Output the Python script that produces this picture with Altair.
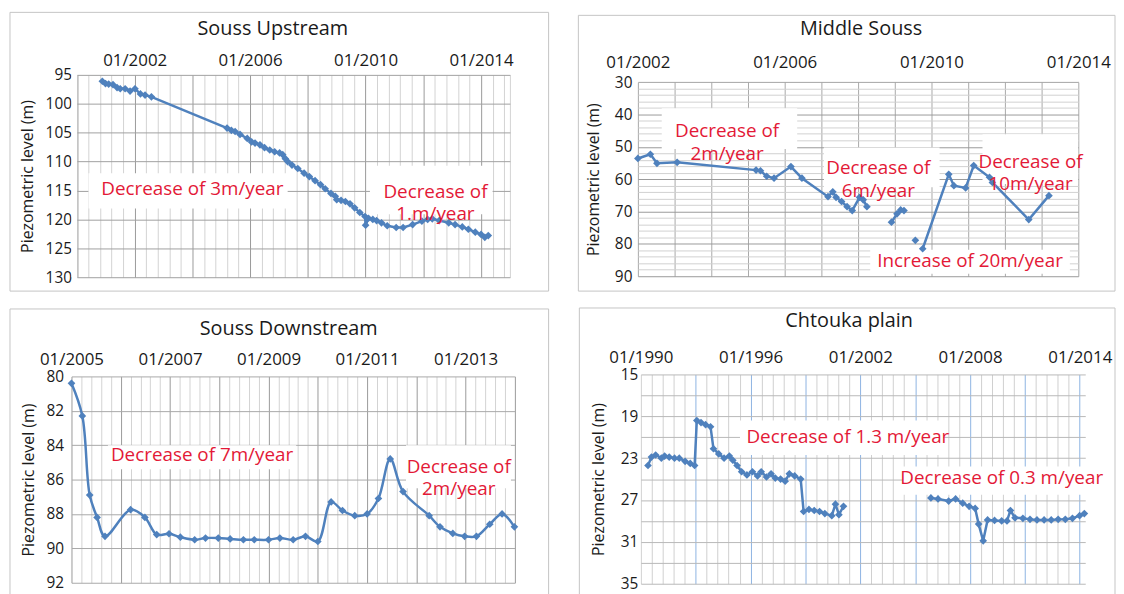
import json
import altair as alt
import pandas as pd

FONT = "Open Sans"
BLUE = "#4f81bd"
RED = "#e31937"
TXT = "#1a1a1a"

# ---------------- Souss Upstream ----------------
up_year = [2000.88, 2000.99, 2001.10, 2001.25, 2001.39, 2001.50, 2001.67, 2001.84, 2002.01, 2002.20,
           2002.36, 2002.58, 2005.20, 2005.35, 2005.48, 2005.65, 2005.90, 2006.05, 2006.17, 2006.34,
           2006.50, 2006.68, 2006.85, 2007.02, 2007.13, 2007.22, 2007.30, 2007.45, 2007.65, 2007.87,
           2008.05, 2008.25, 2008.44, 2008.60, 2008.80, 2008.95, 2009.00, 2009.15, 2009.30, 2009.46,
           2009.62, 2009.80, 2009.98, 2010.00, 2010.10, 2010.25, 2010.38, 2010.55, 2010.75, 2011.06,
           2011.30, 2011.63, 2011.95, 2012.15, 2012.31, 2012.55, 2012.88, 2013.10, 2013.35, 2013.56,
           2013.80, 2014.00, 2014.13, 2014.25]
up_level = [96.1, 96.5, 96.6, 96.7, 97.2, 97.4, 97.4, 97.8, 97.4, 98.3,
            98.5, 98.8, 104.2, 104.6, 104.8, 105.3, 106.0, 106.6, 106.8, 107.1,
            107.6, 108.0, 108.3, 108.5, 108.8, 109.5, 110.0, 110.6, 111.2, 112.0,
            112.6, 113.3, 114.0, 114.7, 115.5, 116.0, 116.6, 116.7, 116.9, 117.3,
            118.0, 118.8, 119.5, 121.0, 119.8, 120.0, 120.2, 120.6, 121.1, 121.4,
            121.4, 120.9, 120.3, 120.0, 119.9, 120.2, 120.6, 120.9, 121.3, 121.7,
            122.2, 122.6, 123.1, 122.8]
up_seg = [1] * len(up_year)

# ---------------- Middle Souss ----------------
mid_year = [2002.00, 2002.34, 2002.52, 2003.07, 2005.22, 2005.34, 2005.51, 2005.71, 2006.17, 2006.47,
            2007.18, 2007.31, 2007.40, 2007.55, 2007.70, 2007.84, 2008.04, 2008.14, 2008.24,
            2008.91, 2009.06, 2009.16, 2009.25,
            2009.56,
            2009.76, 2010.47, 2010.61, 2010.93, 2011.15, 2011.58, 2011.66, 2012.65, 2013.20]
mid_level = [53.6, 52.3, 55.1, 54.8, 57.2, 57.4, 59.1, 59.7, 56.1, 59.7,
             65.4, 63.9, 65.6, 66.9, 68.5, 69.7, 65.6, 66.4, 68.5,
             73.3, 70.7, 69.5, 69.7,
             78.9,
             81.5, 58.5, 62.0, 62.7, 55.8, 59.4, 61.0, 72.5, 65.1]
mid_seg = [1] * 19 + [2] * 4 + [3] + [4] * 9

# ---------------- Souss Downstream ----------------
down_year = [2005.00, 2005.22, 2005.37, 2005.52, 2005.68, 2006.20, 2006.49, 2006.73, 2006.98, 2007.21,
             2007.50, 2007.72, 2007.98, 2008.22, 2008.49, 2008.71, 2009.00, 2009.23, 2009.50, 2009.75,
             2010.00, 2010.27, 2010.50, 2010.75, 2011.00, 2011.23, 2011.47, 2011.73, 2012.26, 2012.48,
             2012.74, 2012.98, 2013.22, 2013.49, 2013.74, 2013.99]
down_level = [80.4, 82.3, 86.9, 88.2, 89.3, 87.75, 88.2, 89.2, 89.15, 89.35,
              89.5, 89.4, 89.4, 89.45, 89.5, 89.5, 89.5, 89.4, 89.5, 89.3,
              89.6, 87.3, 87.8, 88.1, 88.0, 87.1, 84.8, 86.7, 88.1, 88.75,
              89.13, 89.3, 89.3, 88.6, 88.0, 88.75]
down_seg = [1] * len(down_year)

# ---------------- Chtouka plain ----------------
cht_year = [1990.39, 1990.58, 1990.81, 1991.12, 1991.30, 1991.55, 1991.84, 1992.10, 1992.42, 1992.70,
            1992.94, 1993.06, 1993.29, 1993.54, 1993.81, 1993.97, 1994.26, 1994.55, 1994.84, 1995.03,
            1995.26, 1995.51, 1995.80, 1996.10, 1996.38, 1996.58, 1996.87, 1997.12, 1997.35, 1997.64,
            1997.89, 1998.12, 1998.41, 1998.74, 1998.90, 1999.19, 1999.48, 1999.77, 2000.06, 2000.44,
            2000.64, 2000.83, 2001.08,
            2005.86, 2006.25, 2006.83, 2007.21, 2007.60, 2007.95, 2008.28, 2008.47, 2008.72, 2008.96,
            2009.34, 2009.73, 2010.02, 2010.21, 2010.46, 2010.89, 2011.28, 2011.66, 2012.05, 2012.44,
            2012.82, 2013.21, 2013.60, 2013.99, 2014.25]
cht_level = [23.7, 22.9, 22.7, 23.0, 22.8, 22.9, 23.0, 23.0, 23.3, 23.5,
             23.7, 19.4, 19.6, 19.8, 20.0, 22.1, 22.6, 23.0, 22.8, 23.2,
             23.7, 24.3, 24.6, 24.3, 24.7, 24.3, 24.8, 24.5, 24.9, 25.0,
             25.2, 24.5, 24.7, 25.0, 28.1, 27.9, 28.0, 28.1, 28.3, 28.5,
             27.4, 28.4, 27.6,
             26.8, 26.9, 27.1, 26.9, 27.3, 27.6, 27.8, 29.3, 30.9, 28.9,
             28.95, 29.0, 29.0, 28.0, 28.7, 28.75, 28.85, 28.9, 28.9, 28.9,
             28.85, 28.85, 28.75, 28.5, 28.3]
cht_seg = [1] * 43 + [2] * 25

# ---------------- Annotations ----------------
up_notes = [("Decrease of 3m/year", 2004.0, 114.7), ("Decrease of\n1.m/year", 2012.42, 115.2)]
up_boxes = [(2000.4, 2007.3, 112.0, 118.1), (2010.15, 2014.4, 110.7, 119.1)]
mid_notes = [("Decrease of\n2m/year", 2004.43, 45.1), ("Decrease of\n6m/year", 2008.55, 56.5),
             ("Decrease of\n10m/year", 2012.7, 54.6), ("Increase of 20m/year", 2011.05, 85.4)]
mid_boxes = [(2002.65, 2006.34, 38.1, 50.7), (2007.07, 2010.22, 50.2, 62.5),
             (2011.39, 2014.0, 46.1, 61.5), (2008.33, 2013.77, 81.8, 89.2)]
down_notes = [("Decrease of 7m/year", 2007.65, 84.6), ("Decrease of\n2m/year", 2012.86, 85.25)]
down_boxes = [(2005.74, 2009.56, 84.0, 85.4), (2011.79, 2013.92, 84.0, 86.5)]
cht_notes = [("Decrease of 1.3 m/year", 2001.32, 21.0), ("Decrease of 0.3 m/year", 2009.73, 24.9)]
cht_boxes = [(1995.42, 2006.54, 19.4, 22.7), (2004.31, 2014.3, 23.8, 26.5)]


def steps(a, b, s):
    n = int(round((b - a) / s))
    return [round(a + i * s, 2) for i in range(n + 1)]


def panel(title, years, levels, segs, xdom, ydom, xgrid, xlabels, xmajor_test, xmajor_col, xminor_col,
          ygrid, ylabels, ymajor_test, ymajor_col, yminor_col, notes, boxes,
          W, H, L, R, T, B, tx, ty, x0=0, y0=0, xlab_pad=5, ylab_pad=5, title_pad=10,
          interp="linear"):
    df = pd.DataFrame({"year": years, "level": levels, "seg": segs})
    xs = alt.Scale(domain=xdom, range=[x0, W], nice=False, zero=False)
    ys = alt.Scale(domain=ydom, range=[y0, H], nice=False, zero=False)
    xaxis = alt.Axis(
        orient="top", values=xgrid, title=None,
        labelExpr=f"indexof({json.dumps(xlabels)}, datum.value) >= 0 ? '01/' + datum.value : ''",
        labelOverlap=False, labelFlush=False, ticks=False, tickSize=0, domain=False,
        grid=True, gridWidth=1,
        gridColor={"condition": {"test": xmajor_test, "value": xmajor_col}, "value": xminor_col},
        labelFont=FONT, labelFontSize=17, labelColor=TXT, labelPadding=xlab_pad,
    )
    yaxis = alt.Axis(
        values=ygrid, title="Piezometric level (m)",
        labelExpr=f"indexof({json.dumps(ylabels)}, datum.value) >= 0 ? datum.label : ''",
        labelOverlap=False, labelFlush=False, ticks=False, tickSize=0, domain=False,
        grid=True, gridWidth=1,
        gridColor={"condition": {"test": ymajor_test, "value": ymajor_col}, "value": yminor_col},
        labelFont=FONT, labelFontSize=15.5, labelColor=TXT, labelPadding=ylab_pad,
        titleFont=FONT, titleFontSize=16, titleFontWeight="normal", titleColor=TXT,
        titlePadding=title_pad,
    )

    def X():
        return alt.X("year:Q", scale=xs, axis=xaxis)

    def Y():
        return alt.Y("level:Q", scale=ys, axis=yaxis)

    box = alt.Chart(alt.Data(values=[{"k": 0}])).mark_rect(
        filled=False, stroke="#c4c4c4", strokeWidth=1
    ).encode(x=alt.value(-L), x2=alt.value(W + R), y=alt.value(-T), y2=alt.value(H + B))
    ttl = alt.Chart(alt.Data(values=[{"t": title}])).mark_text(
        font=FONT, fontSize=20, color=TXT, align="center", baseline="middle"
    ).encode(x=alt.value(tx), y=alt.value(ty), text="t:N")
    base = alt.Chart(df)
    line = base.mark_line(color=BLUE, strokeWidth=2.5, interpolate=interp).encode(
        x=X(), y=Y(), detail="seg:N",
    )
    pts = base.mark_point(shape="diamond", filled=True, size=60, color=BLUE, opacity=1).encode(
        x=X(), y=Y()
    )
    bdf = pd.DataFrame(boxes, columns=["year", "year2", "level", "level2"])
    wb = alt.Chart(bdf).mark_rect(fill="white", clip=True).encode(
        x=X(), x2="year2:Q", y=Y(), y2="level2:Q"
    )
    ndf = pd.DataFrame(notes, columns=["txt", "year", "level"])
    txt = alt.Chart(ndf).mark_text(
        font=FONT, fontSize=19, color=RED, align="center", baseline="middle",
        lineBreak="\n", lineHeight=23
    ).encode(x=X(), y=Y(), text="txt:N")
    layers = [box, ttl]
    # white strips hiding grid stubs outside the offset plotting range
    if x0 > 0:
        layers.append(alt.Chart(alt.Data(values=[{"k": 0}])).mark_rect(fill="white").encode(
            x=alt.value(0), x2=alt.value(x0 - 0.5), y=alt.value(0), y2=alt.value(H)))
    if y0 > 0:
        layers.append(alt.Chart(alt.Data(values=[{"k": 0}])).mark_rect(fill="white").encode(
            x=alt.value(0), x2=alt.value(W), y=alt.value(0), y2=alt.value(y0 - 0.5)))
    layers += [wb, line, pts, txt]
    return alt.layer(*layers).properties(width=W, height=H)


p1 = panel("Souss Upstream", up_year, up_level, up_seg, [2000, 2015], [95, 130],
           steps(2000, 2015, 0.4) + [2015], [2002, 2006, 2010, 2014],
           "datum.value % 2 == 0", "#9a9a9a", "#d2d2d2",
           steps(95, 130, 5), steps(95, 130, 5), "true", "#a0a0a0", "#a0a0a0",
           up_notes, up_boxes, W=442, H=204, L=62, R=39, T=63, B=14, tx=203, ty=-46,
           x0=5.5, xlab_pad=5, ylab_pad=0, title_pad=10)

p2 = panel("Middle Souss", mid_year, mid_level, mid_seg, [2002, 2014], [30, 90],
           steps(2002, 2014, 1), [2002, 2006, 2010, 2014],
           "true", "#a8a8a8", "#a8a8a8",
           steps(30, 90, 2), steps(30, 90, 10), "datum.value % 10 == 0", "#9a9a9a", "#d0d0d0",
           mid_notes, mid_boxes, W=444, H=203, L=60, R=37, T=60, B=15, tx=225, ty=-46,
           y0=7.3, xlab_pad=3, ylab_pad=6, title_pad=13)

p3 = panel("Souss Downstream", down_year, down_level, down_seg, [2005, 2014], [80, 92],
           steps(2005, 2014, 0.2), [2005, 2007, 2009, 2011, 2013],
           "datum.value % 1 == 0", "#9a9a9a", "#d2d2d2",
           steps(80, 92, 2), steps(80, 92, 2), "true", "#a8a8a8", "#a8a8a8",
           down_notes, down_boxes, W=447, H=208, L=62, R=34, T=68, B=14, tx=219, ty=-48,
           xlab_pad=8, ylab_pad=8, title_pad=10, interp="catmull-rom")

p4 = panel("Chtouka plain", cht_year, cht_level, cht_seg, [1990, 2014.3], [15, 35],
           steps(1990, 2014.2, 0.6), [1990, 1996, 2002, 2008, 2014],
           "(datum.value - 1990) % 3 == 0 && datum.value > 1990", "#8db3e2", "#cfcfcf",
           steps(15, 35, 2), [15, 19, 23, 27, 31, 35], "true", "#b8b8b8", "#b8b8b8",
           cht_notes, cht_boxes, W=451, H=211, L=59, R=30, T=67, B=14, tx=213, ty=-53.5,
           x0=3, xlab_pad=8, ylab_pad=0, title_pad=14)

left = alt.vconcat(p1, p3, spacing=16)
right = alt.vconcat(p2, p4, spacing=15)
chart = alt.hconcat(left, right, spacing=28).properties(
    padding={"left": 1, "top": 1, "right": 0, "bottom": 0}, background="white"
).configure_view(stroke=None)

chart.save("out.html", embed_options={"renderer": "svg", "actions": False})
